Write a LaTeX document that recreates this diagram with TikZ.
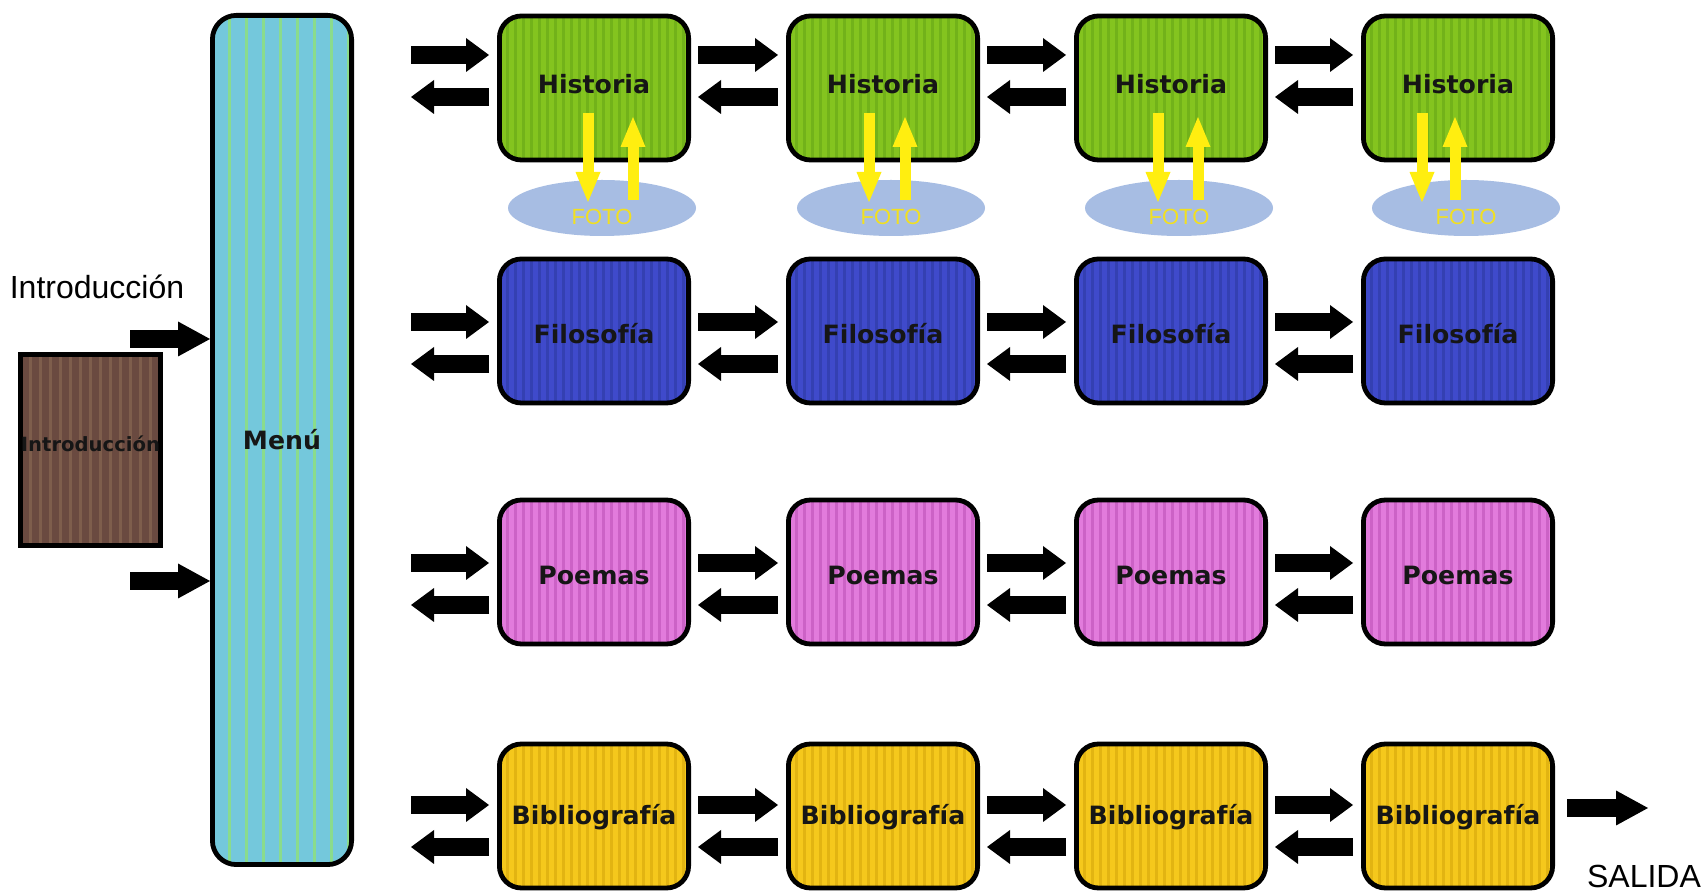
\documentclass[tikz,border=0pt]{standalone}
\usepackage{fontspec}
\setmainfont{DejaVu Sans}
\newfontfamily\lib{Liberation Sans}
\usetikzlibrary{arrows.meta,calc,shapes.geometric}
\definecolor{cgreen}{HTML}{84C41F}
\definecolor{sgreen}{HTML}{72B21A}
\definecolor{cblue}{HTML}{3F4ACB}
\definecolor{sblue}{HTML}{3440B2}
\definecolor{cpink}{HTML}{E27BDC}
\definecolor{spink}{HTML}{CC62C6}
\definecolor{cyel}{HTML}{F5C81C}
\definecolor{syel}{HTML}{E2B412}
\definecolor{ccyan}{HTML}{74C8DC}
\definecolor{scyan}{HTML}{8ADC8C}
\definecolor{cbrown}{HTML}{6A4A40}
\definecolor{sbrown}{HTML}{7E5E4C}
\definecolor{cfoto}{HTML}{A7BDE3}
\definecolor{cyarr}{HTML}{FFEE10}
\definecolor{cfotot}{HTML}{F2E020}
\definecolor{ctext}{HTML}{161616}
\tikzset{
  stripes/.style n args={2}{path picture={
    \foreach \k in {0,...,45}{
      \draw[#1, line width=1.1pt]
        ([xshift=\k*#2]path picture bounding box.south west) --
        ([xshift=\k*#2]path picture bounding box.north west);}}},
  box/.style={draw=black, line width=2.4pt, rounded corners=11pt,
    minimum width=94.6pt, minimum height=72pt, inner sep=0pt,
    text=ctext, font=\fontsize{12.6}{14}\selectfont\bfseries},
  hist/.style={box, fill=cgreen, stripes={sgreen}{4pt}},
  filo/.style={box, fill=cblue, stripes={sblue}{4pt},
    text height=12.8pt, text depth=0pt},
  poem/.style={box, fill=cpink, stripes={spink}{4pt},
    text height=12.4pt, text depth=0pt},
  bibl/.style={box, fill=cyel, stripes={syel}{4pt},
    text height=11.8pt, text depth=3pt},
  menubox/.style={draw=black, line width=2.4pt, rounded corners=12pt,
    minimum width=69.6pt, minimum height=424.6pt, fill=ccyan,
    stripes={scyan}{8.5pt}, text=ctext,
    font=\fontsize{12.6}{14}\selectfont\bfseries},
  introbox/.style={draw=black, line width=2.4pt, minimum width=70.1pt,
    minimum height=95.6pt, fill=cbrown, stripes={sbrown}{5pt}, inner sep=0pt,
    text=ctext, font=\fontsize{9.8}{11}\selectfont\bfseries},
  fotoell/.style={ellipse, fill=cfoto, draw=none, minimum width=94pt,
    minimum height=28pt, inner sep=0pt},
  fototext/.style={text=cfotot, inner sep=0pt,
    font=\lib\fontsize{11}{12}\selectfont},
  barr/.style={black, line width=9pt,
    -{Triangle[length=11.5pt,width=17pt,line width=0pt]}},
  marr/.style={black, line width=9pt,
    -{Triangle[length=16pt,width=17.5pt,line width=0pt]}},
  yarr/.style={cyarr, line width=5.5pt,
    -{Triangle[length=15pt,width=12.5pt,line width=0pt]}},
  plainlabel/.style={inner sep=0pt, text=black,
    font=\lib\fontsize{16}{18}\selectfont},
}
\begin{document}
\begin{tikzpicture}[x=0.5pt,y=-0.5pt]
\fill[white] (0,0) rectangle (1704,892);
\useasboundingbox (0,0) rectangle (1704,892);

% Menu and introduction
\node[menubox] (menu) at (282,440) {Menú};
\node[introbox] (intro) at (90.5,450) {\raisebox{6.5pt}{Introducción}};
\node[plainlabel] (introlabel) at (97,287) {Introducción};
\coordinate (m1) at (130,339);
\coordinate (m2) at (130,581);
\draw[marr] (m1) -- ($(menu.west)+(0,-101)$);
\draw[marr] (m2) -- ($(menu.west)+(0,141)$);

% Grid of boxes
\foreach \c/\x in {1/594,2/883,3/1171,4/1458}{
  \node[hist] (n-1-\c) at (\x,88) {\raisebox{4pt}{Historia}};
  \node[filo] (n-2-\c) at (\x,331) {Filosofía};
  \node[poem] (n-3-\c) at (\x,572) {Poemas};
  \node[bibl] (n-4-\c) at (\x,816) {Bibliografía};
  \node[fotoell] (foto-\c) at (\x+8,208) {};
  \node[fototext] (ft-\c) at ($(foto-\c.center)+(0,9)$) {FOTO};
}

% yellow photo arrows
\foreach \c/\dd/\du in {1/-6/39,2/-14/22,3/-13/27,4/-36/-3}{
  \draw[yarr] ($(n-1-\c.center)+(\dd,25)$) -- ($(foto-\c.center)+(\dd-8,-6)$);
  \draw[yarr] ($(foto-\c.center)+(\du-8,-8)$) -- ($(n-1-\c.center)+(\du,29)$);
}

% horizontal navigation arrows
\foreach \r/\y/\du/\dd in {1/88/-33/9,2/331/-9/33,3/572/-9/33,4/816/-11/31}{
  \coordinate (s-\r) at (411,\y);
  \draw[barr] ($(s-\r)+(0,\du)$) -- ($(n-\r-1.west)+(-8,\du)$);
  \draw[barr] ($(n-\r-1.west)+(-8,\dd)$) -- ($(s-\r)+(0,\dd)$);
  \foreach \c/\n in {1/2,2/3,3/4}{
    \draw[barr] ($(n-\r-\c.east)+(7,\du)$) -- ($(n-\r-\n.west)+(-8,\du)$);
    \draw[barr] ($(n-\r-\n.west)+(-8,\dd)$) -- ($(n-\r-\c.east)+(7,\dd)$);
  }
}

% exit
\coordinate (out) at (1648,808);
\draw[marr] ($(n-4-4.east)+(12,-8)$) -- (out);
\node[plainlabel] (salida) at (1644,876) {SALIDA};
\end{tikzpicture}
\end{document}
